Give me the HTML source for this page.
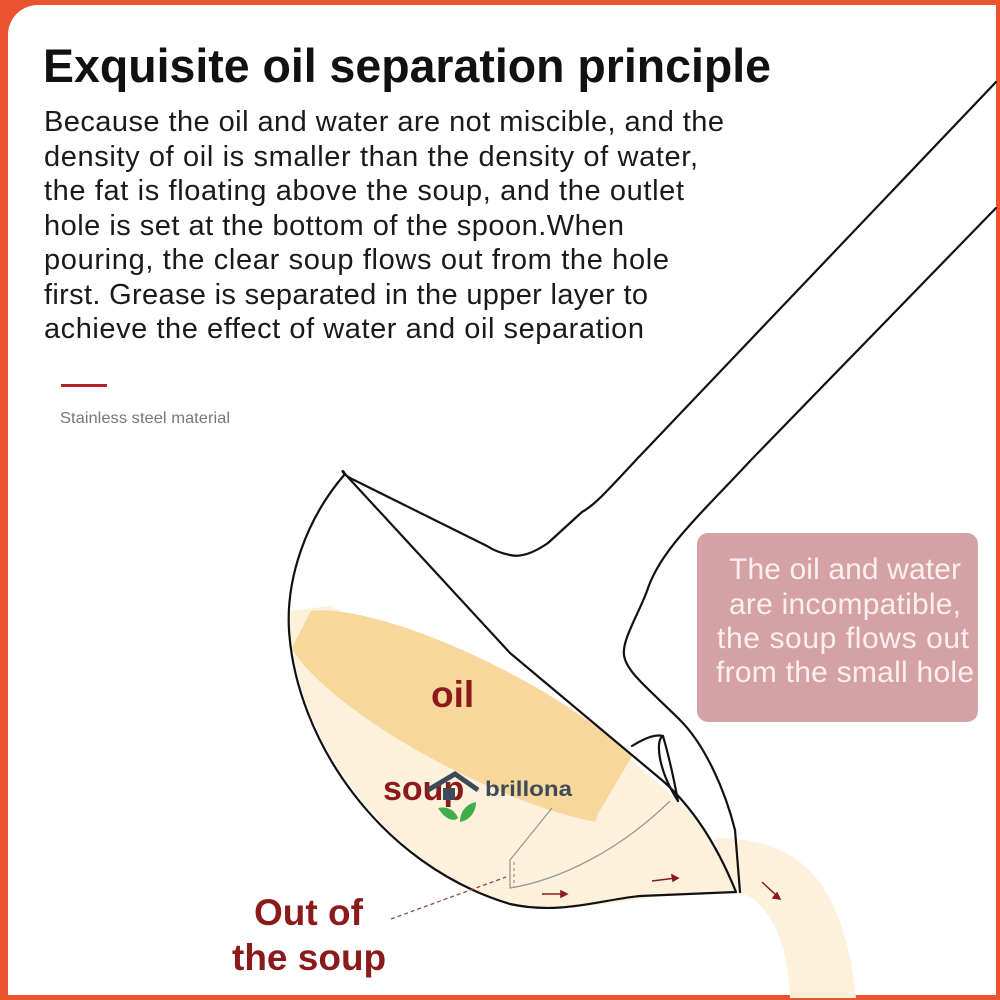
<!DOCTYPE html>
<html><head><meta charset="utf-8"><style>
html,body{margin:0;padding:0;background:#e9542f;}
svg{display:block}
</style></head><body>
<svg width="1000" height="1000" viewBox="0 0 1000 1000" xmlns="http://www.w3.org/2000/svg">
<rect x="0" y="0" width="1000" height="1000" fill="#e9542f"/>
<rect x="8" y="5" width="988" height="990" rx="30" fill="#fff"/>
<rect x="40" y="5" width="956" height="990" fill="#fff"/>
<rect x="8" y="40" width="100" height="955" fill="#fff"/>

<g font-family="'Liberation Sans', sans-serif">
<text x="43" y="82" font-size="47" font-weight="bold" fill="#111" textLength="728" lengthAdjust="spacingAndGlyphs">Exquisite oil separation principle</text>
<g font-size="29" fill="#1a1a1a" lengthAdjust="spacingAndGlyphs">
<text x="44" y="131" textLength="680">Because the oil and water are not miscible, and the</text>
<text x="44" y="166" textLength="654">density of oil is smaller than the density of water,</text>
<text x="44" y="200" textLength="640">the fat is floating above the soup, and the outlet</text>
<text x="44" y="235" textLength="580">hole is set at the bottom of the spoon.When</text>
<text x="44" y="269" textLength="625">pouring, the clear soup flows out from the hole</text>
<text x="44" y="304" textLength="604">first. Grease is separated in the upper layer to</text>
<text x="44" y="338" textLength="600">achieve the effect of water and oil separation</text>
</g>
<rect x="61" y="384" width="46" height="3" fill="#b0232b"/>
<text x="60" y="423" font-size="16" fill="#777" textLength="170" lengthAdjust="spacingAndGlyphs">Stainless steel material</text>
</g>

<path d="M715 838 C760 838 800 850 825 890 C845 925 852 960 856 998 L790 998 C788 960 782 930 760 905 C748 893 738 893 730 893 Z" fill="#fdf1dc"/>
<clipPath id="b"><path d="M280 612 L330 606 L700 780 L760 780 L760 1000 L280 1000 Z"/></clipPath>
<path d="M345 474 C300 520 285 580 290 630 C300 740 380 860 510 905 C570 915 610 900 680 895 L735 893 C725 860 700 820 678 801 L510 653 Z" fill="#fdf1dc" clip-path="url(#b)"/>
<clipPath id="c"><path d="M280 560 L640 560 L628 748 L643 822 L280 840 Z"/></clipPath>
<ellipse cx="475" cy="718" rx="210" ry="56" transform="rotate(27 475 718)" fill="#f7d79c" clip-path="url(#c)"/>

<g fill="none" stroke="#111" stroke-width="2.2" stroke-linejoin="round" stroke-linecap="round">
<path d="M996 82 L636 460 C610 488 595 505 582 512 L548 543 C535 552 522 558 510 555 C500 553 493 550 487 546 L350 478 C340 472 342 468 345 474"/>
<path d="M996 208 L751 460 C700 515 660 550 647 591 C638 615 622 640 624 655 C626 672 650 690 680 720 C705 745 725 790 735 830 L740 892"/>
<path d="M345 474 C305 520 286 580 289 630 C296 740 380 865 510 904 C560 915 600 900 640 896 L736 892"/>
<path d="M345 474 L510 653 L663 781 C690 805 715 840 736 892"/>
<path d="M632 746 C645 738 655 734 663 736 C670 760 675 785 678 801"/>
<path d="M663 736 C655 740 658 770 678 801"/>
</g>
<g fill="none" stroke="#999" stroke-width="1.3">
<path d="M552 808 L510 860 L510 888 C560 880 620 850 670 801"/>
<path d="M514 862 L514 888" stroke-dasharray="3 3"/>
</g>
<path d="M391 919 L506 877" stroke="#8a4b4b" stroke-width="1.3" stroke-dasharray="4 3"/>
<g stroke="#8b1a1a" stroke-width="1.5" fill="#8b1a1a">
<line x1="542" y1="894" x2="565" y2="894"/><path d="M567 894 l-6 -3 v6z"/>
<line x1="652" y1="881" x2="676" y2="878"/><path d="M678 878 l-6 -3 l1 6z"/>
<line x1="762" y1="882" x2="778" y2="897"/><path d="M780 899 l-7 -1 l4 -5z"/>
</g>

<rect x="697" y="533" width="281" height="189" rx="11" fill="#d4a1a5"/>
<g font-family="'Liberation Sans', sans-serif" font-size="30" fill="#fcefef" text-anchor="middle" lengthAdjust="spacingAndGlyphs">
<text x="845" y="579" textLength="232">The oil and water</text>
<text x="845" y="614" textLength="232">are incompatible,</text>
<text x="843" y="648" textLength="252">the soup flows out</text>
<text x="845" y="682" textLength="258">from the small hole</text>
</g>

<g font-family="'Liberation Sans', sans-serif" font-weight="bold" fill="#8b1a1a">
<text x="431" y="707" font-size="37">oil</text>
<text x="383" y="800" font-size="34">soup</text>
<text x="254" y="925" font-size="37">Out of</text>
<text x="232" y="970" font-size="37">the soup</text>
</g>
<path d="M428 790 L455 774 L478 790" fill="none" stroke="#3d4a5a" stroke-width="5"/>
<rect x="443" y="788" width="12" height="12" fill="#3d4a5a"/>
<path d="M438 808 C445 820 455 822 458 818 C455 810 447 806 438 808Z M460 822 C470 820 476 812 476 802 C466 804 460 812 460 822Z" fill="#3fae49"/>
<text x="485" y="796" font-family="'Liberation Sans', sans-serif" font-weight="bold" font-size="21" fill="#3d4a5a" textLength="87" lengthAdjust="spacingAndGlyphs">brillona</text>
</svg>
</body></html>
